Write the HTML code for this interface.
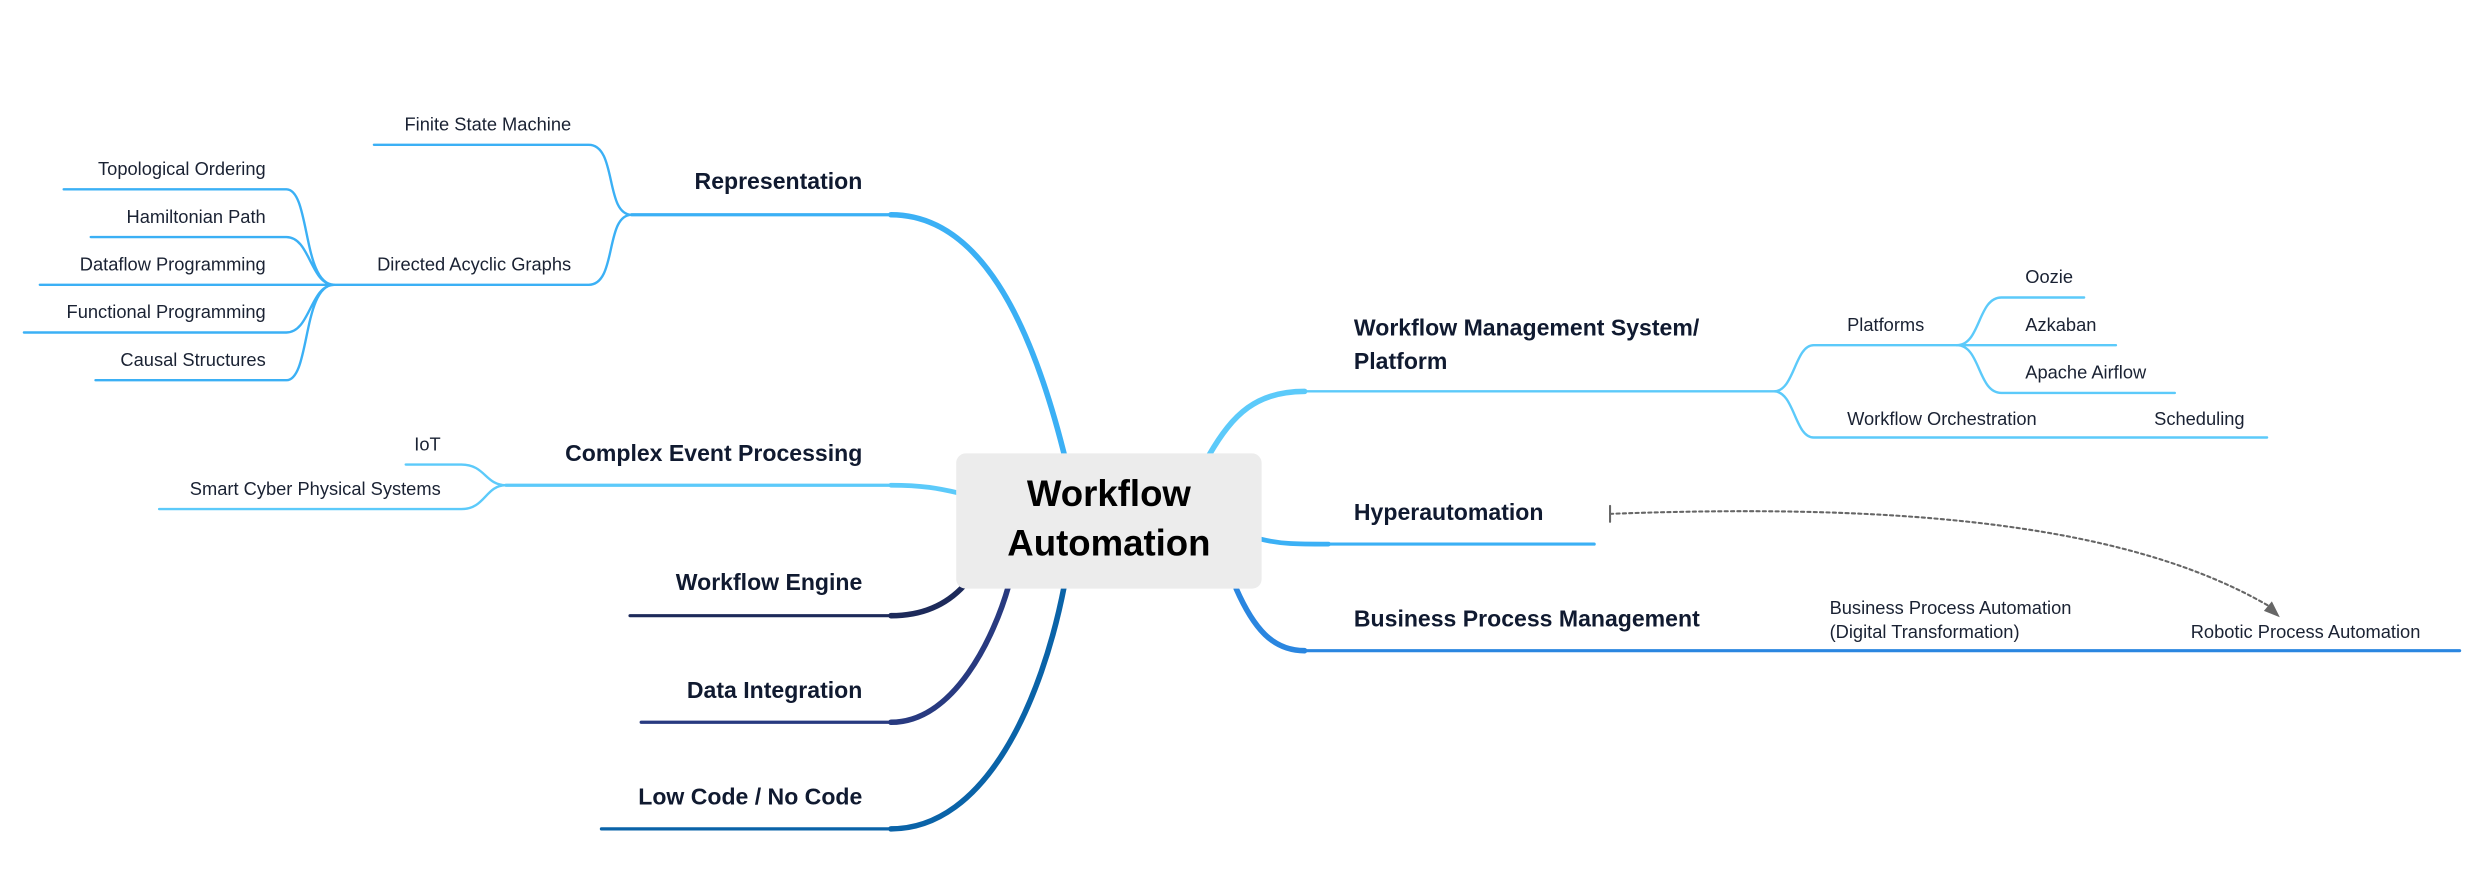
<!DOCTYPE html>
<html><head><meta charset="utf-8"><style>
html,body{margin:0;padding:0;background:#fff;}
svg{display:block}
text{font-family:"Liberation Sans",sans-serif;fill:#1a2233;dominant-baseline:middle}
.b{font-weight:bold;font-size:14.5px;fill:#101a30}
.s{font-size:11.5px}
</style></head><body>
<svg width="2466" height="882" viewBox="0 0 1550 554.4" xmlns="http://www.w3.org/2000/svg">
<g fill="none" stroke-linecap="round">
<!-- Representation -->
<path d="M397,135 H560" stroke="#3bb0f5" stroke-width="2"/>
<path d="M560,135 C615,135 648,200 670,290" stroke="#3bb0f5" stroke-width="3.5"/>
<path d="M235,91 H370 C388,91 380,135 397,135 C380,135 388,179 370,179 H210" stroke="#3bb0f5" stroke-width="1.5"/>
<path d="M40,119 H180 C195,119 190,179 210,179 M57,149 H180 C195,149 195,179 210,179 M25,179 H210 M15,209 H180 C195,209 195,179 210,179 M60,239 H180 C195,239 190,179 210,179" stroke="#3bb0f5" stroke-width="1.5"/>
<!-- CEP -->
<path d="M318,305 H560" stroke="#5ccafa" stroke-width="2"/>
<path d="M560,305 C580,305 590,307 603,310" stroke="#5ccafa" stroke-width="3"/>
<path d="M255,292 H290 C305,292 305,305 318,305 C305,305 305,320 290,320 H100" stroke="#5ccafa" stroke-width="1.5"/>
<!-- Workflow Engine -->
<path d="M396,387 H560" stroke="#1d2a5a" stroke-width="2"/>
<path d="M560,387 C580,387 595,380 606,368" stroke="#1d2a5a" stroke-width="3.5"/>
<!-- Data Integration -->
<path d="M403,454 H560" stroke="#283a80" stroke-width="2"/>
<path d="M560,454 C600,454 625,400 634,368" stroke="#283a80" stroke-width="3.5"/>
<!-- Low code -->
<path d="M378,521 H560" stroke="#0a63a8" stroke-width="2"/>
<path d="M560,521 C620,521 655,440 669,368" stroke="#0a63a8" stroke-width="3.5"/>
<!-- WMS -->
<path d="M820,246 H1115 C1128,246 1128,217 1140,217 H1230 M1115,246 C1128,246 1128,275 1140,275 H1425" stroke="#5ccafa" stroke-width="1.5"/>
<path d="M760,286 C775,260 790,246 820,246" stroke="#5ccafa" stroke-width="3.5"/>
<path d="M1230,217 C1245,217 1243,187 1258,187 H1310 M1230,217 H1330 M1230,217 C1245,217 1243,247 1258,247 H1367" stroke="#5ccafa" stroke-width="1.5"/>
<!-- Hyper -->
<path d="M793,339 C805,342 815,342 835,342" stroke="#3bb0f5" stroke-width="3"/>
<path d="M835,342 H1002" stroke="#3bb0f5" stroke-width="2"/>
<!-- BPM -->
<path d="M777,370 C788,395 800,409 820,409" stroke="#2a86e0" stroke-width="3.5"/>
<path d="M820,409 H1546" stroke="#2a86e0" stroke-width="2"/>
<!-- dashed -->
<path d="M1012,323 C1200,316 1340,330 1428,382" stroke="#666" stroke-width="1.3" stroke-dasharray="2,2"/>
<path d="M1012,318 V328" stroke="#666" stroke-width="1.3"/>
</g>
<path d="M1433,388 L1423,384 L1428,378 Z" fill="#666"/>
<rect x="601" y="285" width="192" height="85" rx="6" fill="#ececec"/>
<text x="697" y="312" text-anchor="middle" style="font-weight:bold;font-size:23px;fill:#000">Workflow</text>
<text x="697" y="343" text-anchor="middle" style="font-weight:bold;font-size:23px;fill:#000">Automation</text>
<g text-anchor="end">
<text class="b" x="542" y="115">Representation</text>
<text class="b" x="542" y="286">Complex Event Processing</text>
<text class="b" x="542" y="367">Workflow Engine</text>
<text class="b" x="542" y="435">Data Integration</text>
<text class="b" x="542" y="502">Low Code / No Code</text>
<text class="s" x="359" y="79">Finite State Machine</text>
<text class="s" x="359" y="167">Directed Acyclic Graphs</text>
<text class="s" x="167" y="107">Topological Ordering</text>
<text class="s" x="167" y="137">Hamiltonian Path</text>
<text class="s" x="167" y="167">Dataflow Programming</text>
<text class="s" x="167" y="197">Functional Programming</text>
<text class="s" x="167" y="227">Causal Structures</text>
<text class="s" x="277" y="280">IoT</text>
<text class="s" x="277" y="308">Smart Cyber Physical Systems</text>
</g>
<text class="b" x="851" y="207">Workflow Management System/</text>
<text class="b" x="851" y="228">Platform</text>
<text class="b" x="851" y="323">Hyperautomation</text>
<text class="b" x="851" y="390">Business Process Management</text>
<text class="s" x="1161" y="205">Platforms</text>
<text class="s" x="1273" y="175">Oozie</text>
<text class="s" x="1273" y="205">Azkaban</text>
<text class="s" x="1273" y="235">Apache Airflow</text>
<text class="s" x="1161" y="264">Workflow Orchestration</text>
<text class="s" x="1354" y="264">Scheduling</text>
<text class="s" x="1150" y="383">Business Process Automation</text>
<text class="s" x="1150" y="398">(Digital Transformation)</text>
<text class="s" x="1377" y="398">Robotic Process Automation</text>
</svg>
</body></html>
